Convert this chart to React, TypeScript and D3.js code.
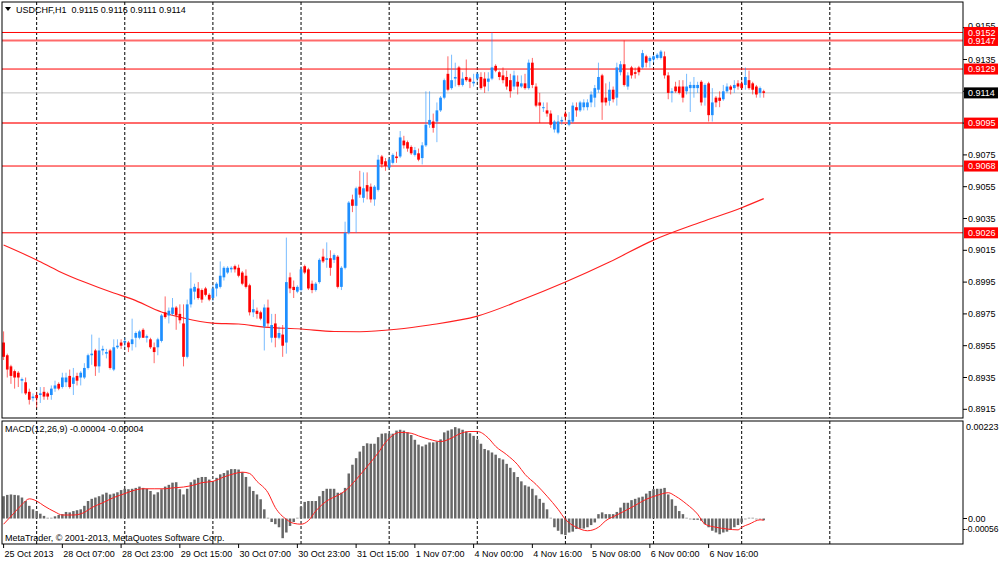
import React from "react";
import * as d3 from "d3";

const symbolTitle = "USDCHF,H1  0.9115 0.9116 0.9111 0.9114";
const macdTitle = "MACD(12,26,9) -0.00004 -0.00004";
const copyright = "MetaTrader, \u00A9 2001-2013, MetaQuotes Software Corp.";

const open = [
0.8957,0.8949,0.8942,0.8939,0.8938,0.8933,0.8932,0.8926,0.8922,0.8924,
0.8924,0.8926,0.8925,0.8924,0.8928,0.8931,0.8929,0.8932,0.8936,0.8931,
0.8936,0.8935,0.8935,0.8941,0.8949,0.8952,0.8942,0.8952,0.8950,0.8952,
0.8940,0.8954,0.8957,0.8957,0.8957,0.8956,0.8960,0.8960,0.8965,0.8960,
0.8959,0.8954,0.8954,0.8958,0.8976,0.8974,0.8975,0.8979,0.8975,0.8969,
0.8948,0.8981,0.8989,0.8991,0.8990,0.8991,0.8987,0.8985,0.8991,0.8992,
0.8998,0.9001,0.9003,0.9005,0.9004,0.9001,0.8999,0.8993,0.8976,0.8977,
0.8976,0.8967,0.8979,0.8960,0.8969,0.8960,0.8962,0.8957,0.8998,0.8992,
0.8989,0.8990,0.9005,0.9003,0.8994,0.8990,0.8995,0.9011,0.9009,0.9010,
0.9009,0.9011,0.8992,0.9004,0.9026,0.9047,0.9043,0.9055,0.9048,0.9056,
0.9055,0.9047,0.9053,0.9074,0.9071,0.9067,0.9070,0.9074,0.9074,0.9084,
0.9083,0.9080,0.9075,0.9076,0.9073,0.9081,0.9094,0.9096,0.9096,0.9103,
0.9111,0.9126,0.9117,0.9123,0.9130,0.9119,0.9124,0.9123,0.9120,0.9123,
0.9124,0.9123,0.9121,0.9123,0.9131,0.9127,0.9125,0.9124,0.9122,0.9118,
0.9121,0.9118,0.9120,0.9117,0.9133,0.9118,0.9108,0.9105,0.9103,0.9101,
0.9091,0.9089,0.9096,0.9101,0.9094,0.9096,0.9105,0.9103,0.9105,0.9105,
0.9108,0.9111,0.9116,0.9125,0.9111,0.9109,0.9116,0.9111,0.9127,0.9132,
0.9118,0.9130,0.9127,0.9130,0.9130,0.9137,0.9134,0.9135,0.9136,0.9136,
0.9137,0.9125,0.9114,0.9118,0.9118,0.9118,0.9115,0.9117,0.9117,0.9117,
0.9121,0.9111,0.9120,0.9100,0.9111,0.9111,0.9110,0.9115,0.9118,0.9117,
0.9120,0.9120,0.9119,0.9122,0.9120,0.9118,0.9114,0.9115];

const high = [
0.8964,0.8950,0.8943,0.8940,0.8939,0.8935,0.8935,0.8928,0.8925,0.8926,
0.8929,0.8929,0.8926,0.8930,0.8933,0.8932,0.8938,0.8938,0.8940,0.8941,
0.8938,0.8939,0.8944,0.8950,0.8962,0.8953,0.8960,0.8955,0.8953,0.8953,
0.8959,0.8959,0.8959,0.8960,0.8958,0.8972,0.8964,0.8965,0.8966,0.8962,
0.8960,0.8957,0.8960,0.8975,0.8986,0.8979,0.8985,0.8980,0.8981,0.8981,
0.8984,0.9001,0.8994,0.8995,0.8991,0.8992,0.8988,0.8993,0.8995,0.9008,
0.9005,0.9005,0.9005,0.9006,0.9006,0.9002,0.9003,0.8994,0.8984,0.8979,
0.8977,0.8981,0.8984,0.8975,0.8975,0.8967,0.8968,0.9023,0.9001,0.8996,
0.8993,0.9005,0.9006,0.9004,0.8996,0.8995,0.9010,0.9016,0.9020,0.9015,
0.9013,0.9012,0.9005,0.9033,0.9046,0.9050,0.9055,0.9065,0.9064,0.9064,
0.9057,0.9056,0.9075,0.9075,0.9073,0.9073,0.9076,0.9077,0.9090,0.9087,
0.9084,0.9081,0.9080,0.9079,0.9083,0.9115,0.9115,0.9101,0.9108,0.9112,
0.9123,0.9137,0.9138,0.9133,0.9131,0.9127,0.9135,0.9124,0.9126,0.9127,
0.9127,0.9127,0.9127,0.9152,0.9132,0.9128,0.9130,0.9128,0.9126,0.9128,
0.9125,0.9125,0.9126,0.9135,0.9136,0.9120,0.9114,0.9108,0.9108,0.9103,
0.9097,0.9100,0.9099,0.9103,0.9102,0.9108,0.9108,0.9109,0.9110,0.9110,
0.9115,0.9119,0.9133,0.9126,0.9120,0.9121,0.9118,0.9133,0.9134,0.9147,
0.9127,0.9131,0.9130,0.9131,0.9141,0.9138,0.9137,0.9138,0.9139,0.9141,
0.9140,0.9127,0.9117,0.9121,0.9122,0.9122,0.9126,0.9121,0.9124,0.9121,
0.9122,0.9120,0.9121,0.9117,0.9112,0.9115,0.9119,0.9120,0.9119,0.9122,
0.9122,0.9122,0.9130,0.9128,0.9121,0.9119,0.9118,0.9116];

const low = [
0.8946,0.8935,0.8931,0.8928,0.8929,0.8925,0.8924,0.8918,0.8920,0.8916,
0.8919,0.8921,0.8921,0.8921,0.8926,0.8927,0.8928,0.8929,0.8928,0.8924,
0.8930,0.8930,0.8934,0.8940,0.8943,0.8936,0.8938,0.8949,0.8947,0.8940,
0.8939,0.8953,0.8953,0.8954,0.8951,0.8952,0.8954,0.8959,0.8960,0.8957,
0.8953,0.8944,0.8949,0.8957,0.8972,0.8969,0.8974,0.8965,0.8969,0.8942,
0.8947,0.8979,0.8984,0.8984,0.8982,0.8986,0.8983,0.8983,0.8986,0.8991,
0.8996,0.9000,0.9001,0.9001,0.8998,0.8993,0.8991,0.8974,0.8973,0.8972,
0.8971,0.8952,0.8967,0.8957,0.8954,0.8959,0.8948,0.8950,0.8988,0.8985,
0.8988,0.8989,0.9000,0.8990,0.8988,0.8989,0.8994,0.9007,0.9004,0.8999,
0.9007,0.8991,0.8990,0.9003,0.9025,0.9039,0.9026,0.9048,0.9045,0.9047,
0.9045,0.9043,0.9052,0.9067,0.9065,0.9066,0.9069,0.9070,0.9073,0.9079,
0.9077,0.9075,0.9074,0.9071,0.9069,0.9080,0.9092,0.9089,0.9083,0.9102,
0.9110,0.9115,0.9116,0.9118,0.9118,0.9118,0.9121,0.9117,0.9118,0.9121,
0.9116,0.9114,0.9115,0.9122,0.9127,0.9122,0.9120,0.9116,0.9111,0.9116,
0.9113,0.9117,0.9116,0.9116,0.9117,0.9105,0.9095,0.9102,0.9099,0.9092,
0.9089,0.9088,0.9094,0.9096,0.9093,0.9095,0.9099,0.9102,0.9103,0.9103,
0.9105,0.9105,0.9114,0.9097,0.9106,0.9106,0.9108,0.9106,0.9125,0.9118,
0.9116,0.9123,0.9123,0.9125,0.9129,0.9130,0.9130,0.9133,0.9135,0.9135,
0.9123,0.9110,0.9108,0.9114,0.9113,0.9108,0.9113,0.9102,0.9111,0.9114,
0.9106,0.9106,0.9096,0.9096,0.9105,0.9105,0.9109,0.9114,0.9113,0.9114,
0.9116,0.9116,0.9116,0.9116,0.9113,0.9111,0.9111,0.9111];

const close = [
0.8948,0.8940,0.8936,0.8935,0.8935,0.8934,0.8925,0.8921,0.8923,0.8922,
0.8925,0.8923,0.8923,0.8928,0.8930,0.8928,0.8935,0.8935,0.8929,0.8935,
0.8933,0.8938,0.8941,0.8949,0.8950,0.8942,0.8952,0.8953,0.8951,0.8941,
0.8954,0.8955,0.8955,0.8958,0.8954,0.8959,0.8963,0.8964,0.8960,0.8961,
0.8954,0.8951,0.8959,0.8974,0.8973,0.8977,0.8979,0.8974,0.8971,0.8948,
0.8981,0.8991,0.8992,0.8985,0.8984,0.8987,0.8984,0.8991,0.8994,0.8999,
0.9004,0.9004,0.9004,0.9003,0.8999,0.8994,0.8992,0.8976,0.8978,0.8975,
0.8972,0.8979,0.8969,0.8968,0.8960,0.8963,0.8955,0.8995,0.8991,0.8990,
0.8992,0.9003,0.9001,0.8991,0.8990,0.8994,0.9009,0.9008,0.9010,0.9004,
0.9012,0.8992,0.9004,0.9026,0.9045,0.9043,0.9054,0.9050,0.9054,0.9052,
0.9047,0.9055,0.9072,0.9069,0.9068,0.9072,0.9075,0.9073,0.9086,0.9081,
0.9079,0.9076,0.9078,0.9072,0.9081,0.9094,0.9097,0.9092,0.9103,0.9111,
0.9122,0.9116,0.9122,0.9124,0.9119,0.9123,0.9122,0.9121,0.9121,0.9126,
0.9117,0.9118,0.9123,0.9130,0.9128,0.9124,0.9122,0.9118,0.9115,0.9125,
0.9118,0.9120,0.9117,0.9133,0.9119,0.9106,0.9106,0.9105,0.9101,0.9094,
0.9096,0.9096,0.9097,0.9099,0.9097,0.9106,0.9103,0.9108,0.9108,0.9108,
0.9113,0.9117,0.9124,0.9108,0.9108,0.9116,0.9110,0.9130,0.9132,0.9119,
0.9125,0.9125,0.9126,0.9127,0.9139,0.9133,0.9136,0.9137,0.9138,0.9140,
0.9125,0.9114,0.9115,0.9115,0.9114,0.9111,0.9118,0.9119,0.9119,0.9119,
0.9108,0.9119,0.9100,0.9108,0.9108,0.9109,0.9115,0.9118,0.9116,0.9119,
0.9118,0.9117,0.9124,0.9117,0.9116,0.9113,0.9117,0.9114];

// moving average (read at selected bars)
const maIndex = [0, 9, 15, 22, 30, 35, 43, 49, 57, 64, 71, 81, 90, 97, 107, 116, 129, 141, 153, 165, 177, 190, 201, 207];
const maValue = [0.90183, 0.90089, 0.90019, 0.89950, 0.89881, 0.89843, 0.89762, 0.89724, 0.89692, 0.89686, 0.89667, 0.89655, 0.89639, 0.89638, 0.89653, 0.89680, 0.89736, 0.89837, 0.89950, 0.90076, 0.90214, 0.90328, 0.90418, 0.90475];

const macdMain = [
0.00051,0.00054,0.00055,0.00054,0.00053,0.00048,0.00040,0.00029,0.00021,0.00017,
0.00011,0.00006,0.00002,0.00002,0.00005,0.00008,0.00010,0.00015,0.00014,0.00017,
0.00019,0.00021,0.00029,0.00040,0.00045,0.00048,0.00051,0.00055,0.00059,0.00055,
0.00057,0.00060,0.00065,0.00068,0.00067,0.00068,0.00070,0.00073,0.00070,0.00068,
0.00063,0.00055,0.00060,0.00067,0.00073,0.00077,0.00082,0.00083,0.00067,0.00055,
0.00068,0.00083,0.00089,0.00093,0.00095,0.00095,0.00089,0.00085,0.00093,0.00101,
0.00104,0.00110,0.00113,0.00113,0.00112,0.00106,0.00095,0.00073,0.00063,0.00055,
0.00044,0.00021,0.00002,-0.00008,-0.00013,-0.00020,-0.00045,-0.00032,-0.00017,-0.00008,
0.00002,0.00027,0.00038,0.00040,0.00040,0.00040,0.00051,0.00063,0.00068,0.00068,
0.00068,0.00059,0.00059,0.00070,0.00103,0.00123,0.00138,0.00153,0.00166,0.00172,
0.00171,0.00171,0.00186,0.00194,0.00195,0.00194,0.00194,0.00201,0.00203,0.00201,
0.00197,0.00191,0.00180,0.00169,0.00165,0.00169,0.00174,0.00174,0.00176,0.00181,
0.00197,0.00201,0.00204,0.00209,0.00206,0.00203,0.00199,0.00195,0.00189,0.00181,
0.00171,0.00159,0.00156,0.00151,0.00146,0.00138,0.00135,0.00125,0.00116,0.00106,
0.00095,0.00085,0.00076,0.00073,0.00068,0.00053,0.00045,0.00036,0.00021,0.00002,
-0.00020,-0.00028,-0.00036,-0.00038,-0.00032,-0.00030,-0.00024,-0.00023,-0.00023,-0.00020,
-0.00015,-0.00009,0.00010,0.00014,0.00010,0.00010,0.00010,0.00015,0.00025,0.00036,
0.00036,0.00042,0.00045,0.00048,0.00050,0.00057,0.00063,0.00067,0.00068,0.00068,
0.00070,0.00055,0.00044,0.00029,0.00017,0.00010,0.00002,-0.00002,-0.00003,-0.00003,
-0.00005,-0.00013,-0.00020,-0.00028,-0.00032,-0.00036,-0.00032,-0.00030,-0.00026,-0.00020,
-0.00015,-0.00009,-0.00002,0.00002,0.00002,0.00000,-0.00002,-0.00004];

const signalIndex = [0,3,5,7,9,11,14,16,19,22,24,27,30,33,35,38,41,44,46,49,52,54,57,60,63,65,67,69,72,74,77,79,81,83,85,88,91,93,96,99,102,104,108,111,113,116,119,122,124,127,129,132,134,137,140,142,145,148,151,153,156,159,162,164,167,170,172,175,178,181,183,186,189,191,194,197,200,201,203,206,207];
const signalValue = [-0.00013,0.00014,0.00032,0.00045,0.00040,0.00029,0.00015,0.00008,0.00008,0.00014,0.00025,0.00036,0.00048,0.00057,0.00063,0.00068,0.00068,0.00068,0.00070,0.00072,0.00077,0.00082,0.00085,0.00095,0.00103,0.00106,0.00103,0.00085,0.00059,0.00025,-0.00002,-0.00011,-0.00013,-0.00005,0.00017,0.00040,0.00053,0.00063,0.00089,0.00119,0.00150,0.00174,0.00197,0.00195,0.00189,0.00181,0.00176,0.00184,0.00193,0.00199,0.00199,0.00184,0.00165,0.00146,0.00123,0.00101,0.00078,0.00051,0.00021,-0.00002,-0.00020,-0.00028,-0.00020,-0.00005,0.00008,0.00021,0.00030,0.00044,0.00053,0.00059,0.00051,0.00033,0.00010,-0.00013,-0.00020,-0.00024,-0.00026,-0.00020,-0.00013,-0.00003,-0.00004];

const priceTicks = [0.8915, 0.8935, 0.8955, 0.8975, 0.8995, 0.9015, 0.9035, 0.9055, 0.9075, 0.9095, 0.9115, 0.9135, 0.9155];
const levelPrices = [0.9147, 0.9152, 0.9129, 0.9095, 0.9068, 0.9026];
const levelSoft = [true, false, false, true, false, false];
const bidPrice = 0.9114;

const dateLabels = ["25 Oct 2013", "28 Oct 07:00", "28 Oct 23:00", "29 Oct 15:00", "30 Oct 07:00", "30 Oct 23:00", "31 Oct 15:00", "1 Nov 07:00", "4 Nov 00:00", "4 Nov 16:00", "5 Nov 08:00", "6 Nov 00:00", "6 Nov 16:00"];
const dateIndex = [0, 16, 32, 48, 64, 80, 96, 112, 128, 144, 160, 176, 192];
const gridIndex = [9, 33, 57, 81, 105, 129, 153, 177, 201, 225];

const macdTop = 0.00223;
const macdBottom = -0.00056;

const FONT = "Tahoma, 'Liberation Sans', Arial, sans-serif";
const BLUE = "#1e8fff";
const RED = "#ff0000";

export default function App() {
  const W = 1000, H = 562;
  const L = 2, R = 963;
  const mainTop = 2, mainBottom = 418;
  const macdT = 421, macdB = 544;

  const x = d3.scaleLinear().domain([0, 225]).range([3.6, 3.6 + 225 * 3.672]);
  const y = d3.scaleLinear().domain([0.8915, 0.9155]).range([409.3, 27.7]);
  const ym = d3.scaleLinear().domain([macdBottom, macdTop]).range([543, 421]);

  const maLine = d3.line<number>()
    .x((_, i) => x(maIndex[i]))
    .y((d) => y(d))
    .curve(d3.curveMonotoneX);
  const sigLine = d3.line<number>()
    .x((_, i) => x(signalIndex[i]))
    .y((d) => ym(d))
    .curve(d3.curveMonotoneX);

  const bodyW = 2.7;
  const histW = 2.5;

  return (
    <svg width={W} height={H} style={{ position: "fixed", left: 0, top: 0, background: "#fff" }}
      fontFamily={FONT} fontSize={9}>
      <defs>
        <clipPath id="mainClip"><rect x={L} y={mainTop} width={R - L} height={mainBottom - mainTop} /></clipPath>
        <clipPath id="macdClip"><rect x={L} y={macdT} width={R - L} height={macdB - macdT} /></clipPath>
      </defs>
      <rect x={0} y={0} width={W} height={H} fill="#fff" />

      {/* grid */}
      {gridIndex.map((g, k) => (
        <g key={"g" + k}>
          <line x1={x(g)} x2={x(g)} y1={mainTop} y2={mainBottom} stroke="#000" strokeDasharray="3,2" />
          <line x1={x(g)} x2={x(g)} y1={macdT} y2={macdB} stroke="#000" strokeDasharray="3,2" />
        </g>
      ))}

      <g clipPath="url(#mainClip)">
        <line x1={L} x2={R} y1={y(bidPrice)} y2={y(bidPrice)} stroke="#c0c0c0" />
        {levelPrices.map((p, k) => (
          <line key={"lv" + k} x1={L} x2={R} y1={y(p)} y2={y(p)}
            stroke={levelSoft[k] ? "#ff6a6a" : RED} strokeWidth={levelSoft[k] ? 2 : 1} />
        ))}
        <path d={maLine(maValue) || ""} fill="none" stroke="#ff2020" strokeWidth={1.1} />
        {close.map((c, i) => {
          const o = open[i];
          const up = c >= o;
          const col = up ? BLUE : RED;
          const cx = x(i);
          const top = y(Math.max(o, c));
          const bot = y(Math.min(o, c));
          return (
            <g key={"c" + i}>
              <line x1={cx} x2={cx} y1={y(high[i])} y2={y(low[i])} stroke={col} strokeOpacity={0.6} strokeWidth={1} />
              <rect x={cx - bodyW / 2} y={top} width={bodyW} height={Math.max(1, bot - top)} fill={col} />
            </g>
          );
        })}
      </g>

      {/* MACD */}
      <g clipPath="url(#macdClip)">
        {macdMain.map((v, i) => {
          const y0 = ym(0);
          const y1 = ym(v);
          const t = Math.min(y0, y1);
          const h = Math.max(1, Math.abs(y1 - y0));
          return <rect key={"h" + i} x={x(i) - histW / 2} y={t} width={histW} height={h}
            fill={Math.abs(v) < 0.000025 ? "#a8a8a8" : "#676767"} />;
        })}
        <path d={sigLine(signalValue) || ""} fill="none" stroke="#ff2020" strokeWidth={1} />
      </g>

      <rect x={L} y={mainTop} width={R - L} height={mainBottom - mainTop} fill="none" stroke="#000" />
      <rect x={L} y={macdT} width={R - L} height={macdB - macdT} fill="none" stroke="#000" />

      {/* price axis */}
      {priceTicks.map((t, k) => (
        <g key={"pt" + k}>
          <line x1={R} x2={R + 4} y1={y(t)} y2={y(t)} stroke="#000" />
          <text x={R + 5} y={y(t) - (k === priceTicks.length - 1 ? 2 : 0)} dy="0.35em" fill="#000">{t.toFixed(4)}</text>
        </g>
      ))}
      {levelPrices.map((p, k) => (
        <g key={"lb" + k}>
          <rect x={R + 1} y={y(p) - 5.5} width={34} height={11} fill={RED} />
          <text x={R + 5} y={y(p)} dy="0.35em" fill="#fff">{p.toFixed(4)}</text>
        </g>
      ))}
      <rect x={R + 1} y={y(bidPrice) - 5.5} width={34} height={11} fill="#000" />
      <text x={R + 5} y={y(bidPrice)} dy="0.35em" fill="#fff">{bidPrice.toFixed(4)}</text>

      {/* MACD axis */}
      <text x={R + 3} y={ym(macdTop) + 6} dy="0.35em" fill="#000">{macdTop.toFixed(5)}</text>
      <line x1={R} x2={R + 4} y1={ym(0)} y2={ym(0)} stroke="#000" />
      <text x={R + 5} y={ym(0)} dy="0.35em" fill="#000">0.00</text>
      <line x1={R} x2={R + 2} y1={ym(0) + 11} y2={ym(0) + 11} stroke="#000" />
      <text x={R + 2} y={ym(0) + 11} dy="0.35em" fill="#000" fontSize={8.5}>{macdBottom.toFixed(5)}</text>

      {/* date axis */}
      {dateIndex.map((d, k) => (
        <g key={"d" + k}>
          <line x1={x(d)} x2={x(d)} y1={macdB} y2={macdB + 4} stroke="#000" />
          <text x={x(d) + 1} y={557} fill="#000">{dateLabels[k]}</text>
        </g>
      ))}

      {/* titles */}
      <path d="M5,7 L11,7 L8,11 Z" fill="#000" />
      <text x={16} y={12.5} fill="#000" style={{ whiteSpace: "pre" }}>{symbolTitle}</text>
      <text x={5} y={432} fill="#000">{macdTitle}</text>
      <text x={5} y={541} fill="#000">{copyright}</text>
    </svg>
  );
}
